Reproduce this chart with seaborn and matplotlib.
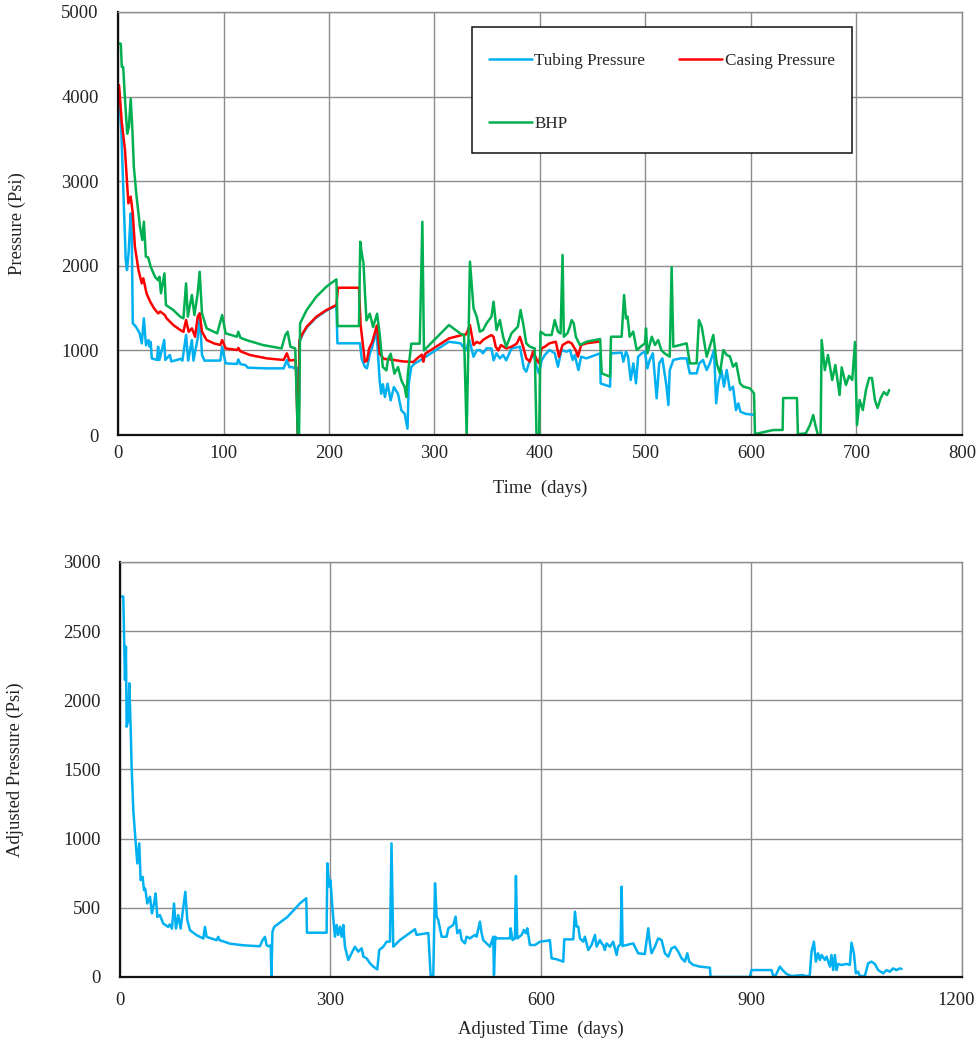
import numpy as np
import pandas as pd
import seaborn as sns
import matplotlib
matplotlib.use("Agg")
import matplotlib.pyplot as plt
import matplotlib.transforms as mtransforms
from matplotlib.patches import Rectangle

# ---------------- data ----------------
tubing_t = [1, 3.2, 5.4, 7.3, 8.5, 10, 12, 13, 14, 17, 20.5, 22.5, 24.5, 26.5, 28.9, 30, 31, 32, 37, 38,
            39.2, 43.8, 44.8, 49.2, 50.5, 55.8, 59, 61, 64.5, 66.5, 70, 71.5, 75.5, 77.4, 79.6, 82, 97, 98.7,
            102, 112.7, 114, 116, 120.8, 123, 141, 157, 160, 162.5, 165, 167, 168, 170, 170.4, 171.2, 172,
            175, 178.8, 188, 197.5, 207, 208, 229.4, 231, 234, 236, 238.7, 241, 245, 248, 249.5, 251, 253,
            255.5, 258.5, 261.5, 265.4, 268.6, 271.7, 274.4, 275.6, 278, 281, 286, 313.7, 324.8, 329.5, 333,
            337, 340, 343, 346, 349.3, 354, 356, 358.8, 362, 365, 368, 373, 381, 384.7, 387, 390.4, 394,
            396.7, 399, 401.5, 404.6, 409, 414, 417, 420.4, 425, 428.5, 431, 433, 436.4, 439, 444, 457,
            457.5, 466.4, 467.3, 477.4, 479, 481.5, 483.5, 486, 488.5, 491, 493, 496.5, 499.5, 501.8, 504,
            507, 510.6, 513, 516, 520, 521.7, 523, 526.4, 533, 539, 542, 548.5, 551, 554.5, 558, 561, 565,
            567, 569, 572, 574.4, 577, 580, 583, 585.8, 588, 590, 595, 602]
tubing_p = [4078, 3562, 2778, 2069, 1950, 2147, 2620, 2384, 1320, 1280, 1202, 1083, 1379, 1060, 1123, 1044,
            1100, 906, 887, 1044, 887, 1123, 887, 946, 870, 887, 900, 880, 1182, 880, 1123, 880, 1142, 1438,
            946, 880, 880, 1044, 847, 840, 894, 838, 827, 796, 788, 788, 887, 800, 805, 788, 808, 790, 0, 0,
            1100, 1190, 1270, 1390, 1470, 1530, 1084, 1084, 900, 807, 788, 961, 1040, 1237, 646, 488, 600,
            449, 607, 410, 567, 488, 292, 252, 75, 607, 804, 843, 880, 1103, 1084, 1000, 1123, 925, 1000,
            1005, 966, 1024, 1024, 883, 966, 906, 946, 883, 1024, 1044, 788, 749, 883, 966, 808, 729, 883,
            946, 1005, 966, 808, 1005, 985, 1005, 887, 946, 768, 926, 906, 966, 610, 572, 966, 974, 867,
            985, 926, 650, 847, 611, 926, 966, 985, 788, 887, 966, 434, 847, 906, 572, 355, 766, 887, 906,
            906, 729, 729, 847, 887, 768, 847, 1005, 375, 611, 768, 572, 768, 532, 572, 295, 374, 276, 250,
            240]

casing_t = [1, 3.5, 6.6, 9.8, 12, 14, 16, 19.4, 22.5, 24, 27, 30.5, 34, 38, 40, 44.4, 46, 52.4, 59, 62,
            64.5, 67, 70, 73, 75.5, 77.4, 79.6, 84, 91, 97, 98.7, 102, 113, 114, 116, 125, 141, 157, 160,
            162.5, 167, 168.5, 170.4, 171.2, 172, 175, 178.8, 188, 197.5, 207, 208.5, 228.4, 230, 234, 236,
            238, 241, 244.5, 245.5, 248, 252, 260, 270, 280, 283, 288, 289.5, 291, 313.7, 326, 330, 333.6,
            337, 340, 343, 346, 349.3, 354, 356, 358, 360.5, 363, 368, 373, 378, 381, 384, 387, 390.4, 393.5,
            397, 399, 401.5, 404.6, 409, 415, 418, 421.4, 426.7, 430, 434, 436, 439, 444, 455, 457]
casing_p = [4134, 3700, 3368, 2739, 2818, 2620, 2226, 1950, 1793, 1852, 1675, 1576, 1500, 1438, 1460, 1418,
            1380, 1300, 1241, 1220, 1359, 1220, 1261, 1162, 1398, 1438, 1221, 1123, 1083, 1064, 1123, 1024,
            1005, 1030, 990, 946, 906, 887, 966, 880, 887, 880, 0, 0, 1123, 1200, 1280, 1398, 1477, 1537,
            1741, 1741, 1300, 866, 880, 1020, 1100, 1257, 1296, 961, 900, 890, 870, 864, 900, 950, 866, 960,
            1142, 1182, 1190, 1300, 1064, 1100, 1084, 1123, 1150, 1182, 1160, 1044, 1000, 1064, 1024, 1044,
            1080, 1162, 1044, 906, 867, 990, 887, 850, 1024, 1044, 1084, 1103, 926, 1064, 1103, 1084, 1000,
            926, 1064, 1084, 1103, 1110]

bhp_t = [1, 2.6, 3.6, 4.9, 6.5, 8.7, 10.3, 12, 13.5, 15, 17.6, 20.8, 23, 24.5, 26.4, 28.5, 31, 35, 38, 39.3,
         40.7, 44, 45.4, 52.4, 59, 62, 64.5, 66.2, 70, 72.4, 75.5, 77.4, 79.6, 84, 94, 98.7, 102, 112.7, 114,
         116, 121.5, 137.3, 155, 158.6, 160.8, 163.4, 168, 170.4, 171.6, 172.6, 178.8, 188, 197.5, 207, 208,
         228.4, 229.6, 231, 232.7, 234, 235.5, 238.7, 241.8, 245.6, 248, 251, 254.4, 256, 258.5, 262, 265.4,
         268.6, 271.7, 273.3, 274.8, 278, 286, 288.5, 290, 313.7, 324.8, 328, 330.5, 333.6, 337, 340, 343,
         346, 349.3, 354, 356, 358.8, 362, 365, 368, 373, 379, 381.6, 384, 387, 390.4, 395, 396.7, 399.2,
         400.5, 405, 411, 414, 417, 419.5, 421.4, 422.6, 426, 428.3, 430, 432, 434, 437.8, 444, 457, 458.5,
         466.4, 467.3, 477.4, 479.7, 481.5, 483, 485, 488.4, 491.7, 496, 499.5, 500.5, 501.8, 506, 509, 512,
         515, 518, 523, 524.8, 526.4, 539, 542, 548.5, 550.7, 553.3, 558, 561, 564.3, 567.5, 570.6, 573.8,
         577, 580, 583, 586, 589.6, 592.7, 599, 602.9, 603.8, 621, 630, 630.5, 643.6, 644.5, 652, 656, 659,
         661, 663.5, 666, 667, 670, 673, 677, 680, 684, 686, 690, 693, 696, 698.6, 700.5, 703, 706, 709,
         712, 714.7, 717.5, 720, 723, 726, 729, 731]
bhp_p = [4626, 4626, 4350, 4350, 3995, 3562, 3640, 3975, 3640, 3168, 2818, 2463, 2305, 2522, 2108, 2100,
         1989, 1871, 1830, 1871, 1675, 1911, 1537, 1477, 1398, 1380, 1792, 1400, 1655, 1418, 1675, 1930,
         1438, 1261, 1202, 1418, 1202, 1162, 1221, 1150, 1123, 1064, 1024, 1182, 1221, 1044, 1024, 0, 0,
         1320, 1477, 1635, 1753, 1840, 1288, 1288, 2285, 2150, 2030, 1700, 1355, 1434, 1277, 1434, 1197,
         804, 764, 900, 961, 725, 804, 646, 567, 449, 725, 1080, 1080, 2521, 1000, 1300, 1197, 1180, 0,
         2049, 1498, 1400, 1222, 1240, 1320, 1399, 1576, 1241, 1359, 1162, 1044, 1202, 1280, 1477, 1320,
         1084, 1044, 1024, 0, 0, 1222, 1182, 1182, 1359, 1222, 1200, 2128, 1162, 1202, 1280, 1359, 1320,
         1162, 1064, 1103, 1135, 729, 690, 1162, 1162, 1655, 1379, 1400, 1162, 1222, 1005, 1050, 1084, 1261,
         966, 1162, 1064, 1123, 1005, 966, 926, 1985, 1044, 1084, 847, 847, 1359, 1281, 926, 1050, 1182,
         847, 729, 1005, 946, 930, 808, 850, 611, 572, 552, 493, 12, 59, 60, 437, 437, 10, 20, 120, 236,
         120, 0, 0, 1123, 768, 946, 650, 827, 473, 800, 591, 700, 650, 1100, 118, 414, 295, 532, 674, 674,
         414, 319, 437, 508, 473, 532]

adj_t = [2.4, 4.7, 5.7, 7.1, 8.5, 9.5, 11.9, 13.3, 15.2, 16.6, 19, 21.4, 24.7, 27.5, 29.4, 32.3, 34.2, 36,
         39, 42.8, 45.6, 48.5, 50.8, 53.2, 57, 61.7, 68.8, 71, 74.1, 77, 79.8, 83.1, 86.5, 90.3, 93.1, 96,
         99.8, 109.3, 118.8, 121.1, 123.5, 137.7, 140, 142, 156.7, 175.7, 199.4, 203.2, 206.6, 209, 212,
         214.9, 215.8, 217.3, 219.7, 238.7, 256.5, 265.5, 266.5, 294.5, 295.5, 298.3, 300, 303, 306.4,
         308.8, 311, 313.5, 316, 318.3, 320.6, 325.4, 330, 334.9, 339.6, 344.4, 347, 351.5, 356.3, 361,
         366.7, 369.5, 375.3, 380, 384.8, 387, 389.5, 399, 420.4, 422.7, 437, 439.5, 442.7, 446.5, 449,
         451.3, 453.6, 458.4, 465.5, 468, 475, 478.3, 480.7, 484.5, 487, 491.6, 494, 498.7, 505.9, 508.2,
         513, 515.4, 517.7, 522.5, 527.3, 532, 533, 534.9, 537, 541.5, 555.8, 556.7, 559.5, 562.9, 564.3,
         566.2, 572.4, 575.7, 578.5, 580.5, 584.3, 591.4, 598.5, 610.4, 612.7, 615.1, 622.3, 631.8, 633.2,
         646, 648.4, 650.8, 653.2, 655.5, 660.3, 662.6, 667.4, 672.1, 676.9, 679.3, 684, 686.4, 688.8, 691,
         693.5, 698.3, 703, 707.8, 710, 713.5, 715, 716.3, 731.5, 738.6, 748, 752.9, 755.3, 757.6, 762.4,
         767, 771.9, 776.6, 781.4, 786.1, 790.9, 795.6, 800.4, 805.1, 808.5, 811.3, 817, 826.5, 840.8,
         841.7, 897.8, 900, 928.6, 931, 934.8, 940.5, 944.3, 950, 957, 973.8, 976.1, 983, 985.6, 989,
         991.8, 995, 997.5, 999.9, 1004.6, 1007, 1011.8, 1014, 1016.5, 1018.9, 1021.3, 1023.6, 1028.4,
         1035.5, 1040.2, 1042.6, 1046, 1048.8, 1052, 1054.5, 1061.6, 1066.4, 1071, 1075.9, 1080.6, 1087.8,
         1092.5, 1097, 1102, 1106.6, 1111.5, 1114]
adj_p = [2750, 2750, 2485, 2147, 2388, 1809, 1857, 2123, 1809, 1520, 1206, 1038, 821, 966, 700, 724, 628,
         640, 531, 580, 459, 531, 604, 434, 447, 386, 362, 380, 350, 531, 350, 447, 350, 507, 616, 410, 338,
         302, 278, 362, 290, 266, 290, 266, 241, 229, 222, 266, 290, 229, 222, 229, 0, 326, 362, 434, 532,
         569, 320, 320, 822, 653, 701, 484, 291, 376, 304, 364, 291, 376, 219, 123, 171, 219, 183, 207, 147,
         135, 99, 75, 55, 195, 219, 255, 255, 966, 219, 267, 345, 304, 316, 316, 14, 7, 677, 436, 412, 291,
         291, 352, 376, 436, 316, 340, 267, 243, 291, 279, 304, 291, 400, 316, 267, 243, 219, 291, 14, 291,
         279, 279, 279, 352, 267, 279, 730, 279, 304, 340, 316, 352, 231, 231, 255, 263, 267, 135, 128, 111,
         272, 272, 472, 364, 364, 279, 255, 291, 195, 231, 304, 219, 267, 243, 231, 195, 243, 219, 255, 159,
         219, 238, 653, 224, 243, 171, 166, 352, 243, 171, 219, 279, 267, 171, 147, 207, 219, 183, 135, 111,
         171, 111, 87, 75, 67, 0, 0, 50, 50, 7, 14, 75, 50, 22, 7, 14, 7, 7, 183, 255, 111, 171, 123, 159,
         123, 147, 75, 159, 50, 159, 50, 94, 87, 94, 87, 248, 171, 26, 38, 7, 7, 99, 111, 94, 50, 26, 50, 38,
         62, 50, 62, 58]

top_xticks = [0, 100, 200, 300, 400, 500, 600, 700, 800]
top_yticks = [0, 1000, 2000, 3000, 4000, 5000]
bot_xticks = [0, 300, 600, 900, 1200]
bot_yticks = [0, 500, 1000, 1500, 2000, 2500, 3000]

# ---------------- style ----------------
sns.set_theme(style="white")
plt.rcParams["font.family"] = ["Liberation Serif", "DejaVu Serif"]

BLUE = "#00B0F0"
RED = "#FF0000"
GREEN = "#00B050"
GRID = "#8c8c8c"
LW = 1.8

fig = plt.figure(figsize=(9.77, 10.43), dpi=100)
ax1 = fig.add_axes([0.1208, 0.5829, 0.8638, 0.4056])
ax2 = fig.add_axes([0.1228, 0.0633, 0.8618, 0.3979])

df_t = pd.DataFrame({"t": tubing_t, "p": tubing_p})
df_c = pd.DataFrame({"t": casing_t, "p": casing_p})
df_b = pd.DataFrame({"t": bhp_t, "p": bhp_p})
df_a = pd.DataFrame({"t": adj_t, "p": adj_p})

sns.lineplot(data=df_t, x="t", y="p", ax=ax1, color=BLUE, lw=LW, estimator=None, sort=False,
             label="Tubing Pressure")
sns.lineplot(data=df_c, x="t", y="p", ax=ax1, color=RED, lw=LW, estimator=None, sort=False,
             label="Casing Pressure")
sns.lineplot(data=df_b, x="t", y="p", ax=ax1, color=GREEN, lw=LW, estimator=None, sort=False,
             label="BHP")
sns.lineplot(data=df_a, x="t", y="p", ax=ax2, color=BLUE, lw=LW, estimator=None, sort=False,
             legend=False)

def style_axes(ax, xticks, yticks, xlabel, ylabel, xpad, xlabpad, ylabpad):
    ax.set_xlim(xticks[0], xticks[-1])
    ax.set_ylim(yticks[0], yticks[-1])
    ax.set_xticks(xticks)
    ax.set_yticks(yticks)
    ax.set_xticklabels([str(v) for v in xticks])
    ax.set_yticklabels([str(v) for v in yticks])
    ax.grid(True, color=GRID, lw=1.0)
    ax.set_axisbelow(True)
    ax.tick_params(axis="both", length=0, labelsize=13.4, colors="#222222")
    ax.tick_params(axis="y", pad=14)
    ax.tick_params(axis="x", pad=xpad)
    ax.set_xlabel(xlabel, fontsize=13.4, color="#222222", labelpad=xlabpad)
    ax.set_ylabel(ylabel, fontsize=13.4, color="#222222", labelpad=ylabpad)
    for s in ["left", "bottom"]:
        ax.spines[s].set_color("#111111")
        ax.spines[s].set_linewidth(1.6)
    for s in ["top", "right"]:
        ax.spines[s].set_color(GRID)
        ax.spines[s].set_linewidth(1.0)
    ax.set_facecolor("white")

style_axes(ax1, top_xticks, top_yticks, "Time  (days)", "Pressure (Psi)", 7, 13, 25)
style_axes(ax2, bot_xticks, bot_yticks, "Adjusted Time  (days)", "Adjusted Pressure (Psi)", 11, 8, 28)

# nudge the last bottom tick label ("1200") slightly left so it stays inside the figure
last = ax2.get_xticklabels()[-1]
last.set_transform(last.get_transform() + mtransforms.ScaledTranslation(-6 / 100, 0, fig.dpi_scale_trans))

# legend box (frame drawn separately so the padding matches the reference)
box = Rectangle((0.419, 0.667), 0.451, 0.298, transform=ax1.transAxes, facecolor="white",
                edgecolor="#111111", lw=1.1, zorder=5)
ax1.add_patch(box)

handles, labels = ax1.get_legend_handles_labels()
order = [0, 2, 1]  # column-major fill -> row 1: Tubing, Casing; row 2: BHP
leg = ax1.legend([handles[i] for i in order], [labels[i] for i in order],
                 loc="upper left", bbox_to_anchor=(0.4396, 0.9030), borderaxespad=0, ncol=2,
                 frameon=False, fontsize=12.3, handlelength=2.5, handletextpad=0.15,
                 columnspacing=2.0, labelspacing=2.75, borderpad=0)
leg.set_zorder(6)

fig.savefig("out.png", dpi=100, facecolor="white")
